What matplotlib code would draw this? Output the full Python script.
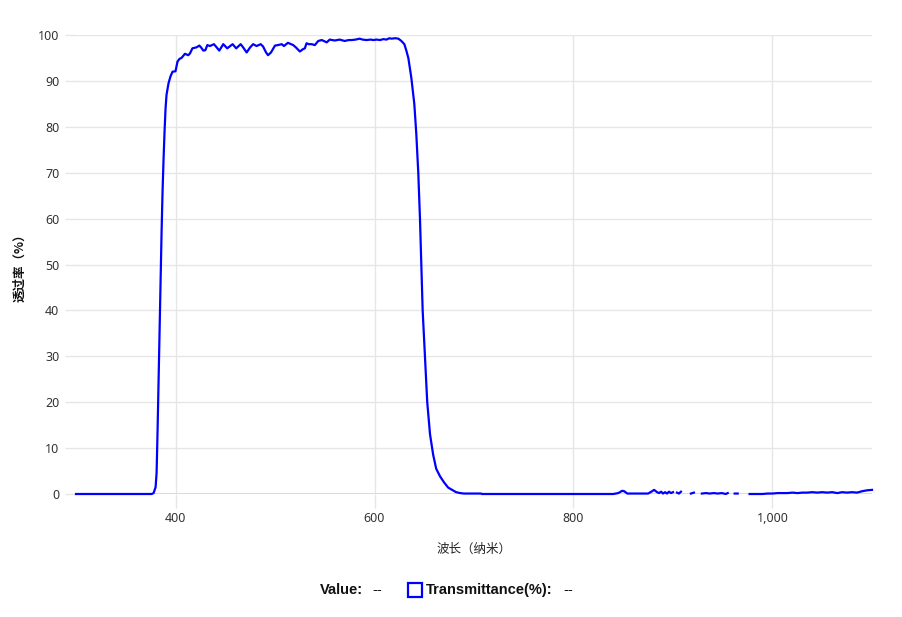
import numpy as np
import matplotlib
matplotlib.use('Agg')
import matplotlib.pyplot as plt
from matplotlib.lines import Line2D

plt.rcParams['font.family'] = ['Noto Sans', 'Noto Sans CJK SC', 'DejaVu Sans']

# spectrum (wavelength nm, transmittance %)
wavelength = [300, 376, 378, 380, 381, 382, 383, 384, 385, 386, 387, 388, 389, 390, 391, 393, 395, 397,
              400, 402, 404, 406, 409.5, 412.8, 414.6, 417, 421, 424, 426, 428, 430, 432, 434.6, 438.6,
              441, 444, 446, 448, 452, 455, 457.4, 461, 465.5, 468, 471.5, 475, 478, 481.5, 485.6, 488,
              491, 493, 496, 500, 503, 506.7, 509, 513, 518.3, 521, 525, 528, 530, 531.7, 534, 537, 540,
              543.5, 547, 550, 552, 555, 560, 565, 570, 574, 577, 581, 585, 588, 592, 596, 599, 602,
              605.5, 609, 612, 615, 617, 621, 624, 627, 630, 632, 634, 637, 640, 642, 644, 645.7, 647,
              648.4, 650.7, 653, 655.8, 659, 662, 666, 670, 674, 678, 682, 686, 690, 707, 708,
              840, 845, 849, 851, 854, 875, 879, 881, 884, 886, 888, 890, 892, 894, 896, 898, 900, 902,
              904, 906, 908, 910, 914, 918, 921, 923, 926, 929, 933, 937, 941, 945, 949, 953, 955, 958,
              962, 965, 968, 971, 974, 977, 985, 990, 995, 1000, 1005, 1010, 1015, 1020, 1025, 1030,
              1035, 1040, 1045, 1050, 1055, 1060, 1065, 1070, 1075, 1080, 1085, 1090, 1095, 1100]
transmittance = [0, 0, 0.2, 1.5, 4.6, 14, 25, 36, 47, 57, 66, 73, 79, 84, 87, 89.5, 91, 92,
                 92.1, 94.2, 94.8, 95, 95.9, 95.6, 96.0, 97.1, 97.3, 97.7, 97.2, 96.6, 96.7, 97.8, 97.6, 98.0,
                 97.4, 96.6, 97.3, 98.0, 97.1, 97.6, 98.0, 97.1, 98.0, 97.3, 96.2, 97.3, 98.0, 97.6, 98.0, 97.5,
                 96.2, 95.6, 96.2, 97.7, 97.8, 98.0, 97.6, 98.3, 97.8, 97.3, 96.4, 96.9, 97.1, 98.2, 98.0, 98.0, 97.8,
                 98.7, 98.9, 98.6, 98.4, 99.0, 98.8, 99.0, 98.7, 98.9, 98.9, 99.0, 99.2, 99.0, 98.9, 99.0, 98.9, 99.0,
                 98.9, 99.1, 99.0, 99.3, 99.2, 99.3, 99.2, 98.7, 98.0, 96.6, 95, 90.7, 85, 78.5, 70, 60, 50,
                 40, 30, 20, 13, 8.5, 5.5, 3.8, 2.5, 1.4, 0.9, 0.4, 0.2, 0.1, 0.1, 0.0,
                 0, 0.2, 0.7, 0.6, 0.1, 0.1, 0.6, 0.9, 0.4, 0.2, 0.5, 0.1, 0.4, 0.1, 0.5, 0.2, 0.4, -0.2,
                 0.3, 0.1, 0.5, -0.2, -0.3, 0.1, 0.3, -0.1, -0.2, 0.1, 0.2, 0.1, 0.2, 0.1, 0.2, 0.0, 0.2, -0.1,
                 0.1, 0.1, -0.2, 0.1, -0.1, 0.0, 0.0, 0.0, 0.1, 0.1, 0.2, 0.2, 0.2, 0.3, 0.2, 0.3,
                 0.3, 0.4, 0.3, 0.4, 0.3, 0.4, 0.2, 0.4, 0.3, 0.4, 0.3, 0.6, 0.8, 0.9]

x_ticks = [400, 600, 800, 1000]
x_tick_labels = ['400', '600', '800', '1,000']
y_ticks = list(range(0, 101, 10))

grid_color = '#e6e6e6'
text_color = '#333333'
legend_font = ['Liberation Sans', 'DejaVu Sans']

fig = plt.figure(figsize=(9.03, 6.17), dpi=100)
ax = fig.add_axes([76 / 903, 1 - 494 / 617, 796 / 903, 459 / 617])

y = np.array(transmittance, dtype=float)
y[y < 0] = np.nan  # below-zero readings are hidden under the axis
ax.plot(wavelength, y, color='#0000ff', linewidth=1.6, clip_on=False, zorder=3)

ax.set_xlim(300, 1100)
ax.set_ylim(0, 100)
ax.set_xticks(x_ticks)
ax.set_xticklabels(x_tick_labels)
ax.set_yticks(y_ticks)

for s in ax.spines.values():
    s.set_visible(False)
ax.axhline(0, color='#d8d8d8', linewidth=2, zorder=1)

ax.grid(True, color=grid_color, linewidth=1)
ax.set_axisbelow(True)
ax.tick_params(axis='x', length=10, color=grid_color, width=1, pad=3, labelsize=9, labelcolor=text_color)
ax.tick_params(axis='y', length=8, color=grid_color, width=1, pad=4, labelsize=9, labelcolor=text_color)

ax.set_xlabel('波长（纳米）', fontsize=9, color='#222222', family=['Noto Sans CJK SC'])
ax.set_ylabel('透过率（%）', fontsize=9, color='#111111', fontweight='bold', family=['Noto Sans CJK SC'])
ax.xaxis.set_label_coords(0.5, -(549 - 494) / 459)
ax.yaxis.set_label_coords(-(76 - 20) / 796, 0.5)
ax.xaxis.label.set_va('center')
ax.yaxis.label.set_va('center')

# legend row at the bottom
ly = 1 - 590 / 617
fig.text(320 / 903, ly, 'Value:', fontsize=10.5, fontweight='bold', color='#111111', va='center',
         family=legend_font)
fig.text(372 / 903, ly, '--', fontsize=10.5, color='#111111', va='center', family=legend_font)
fig.add_artist(Line2D([415 / 903], [ly], marker='s', markersize=10, markerfacecolor='white',
                      markeredgecolor='#0000ff', markeredgewidth=1.6, transform=fig.transFigure))
fig.text(426 / 903, ly, 'Transmittance(%):', fontsize=10.5, fontweight='bold', color='#111111', va='center',
         family=legend_font)
fig.text(563 / 903, ly, '--', fontsize=10.5, color='#111111', va='center', family=legend_font)

fig.savefig('out.png', dpi=100)
